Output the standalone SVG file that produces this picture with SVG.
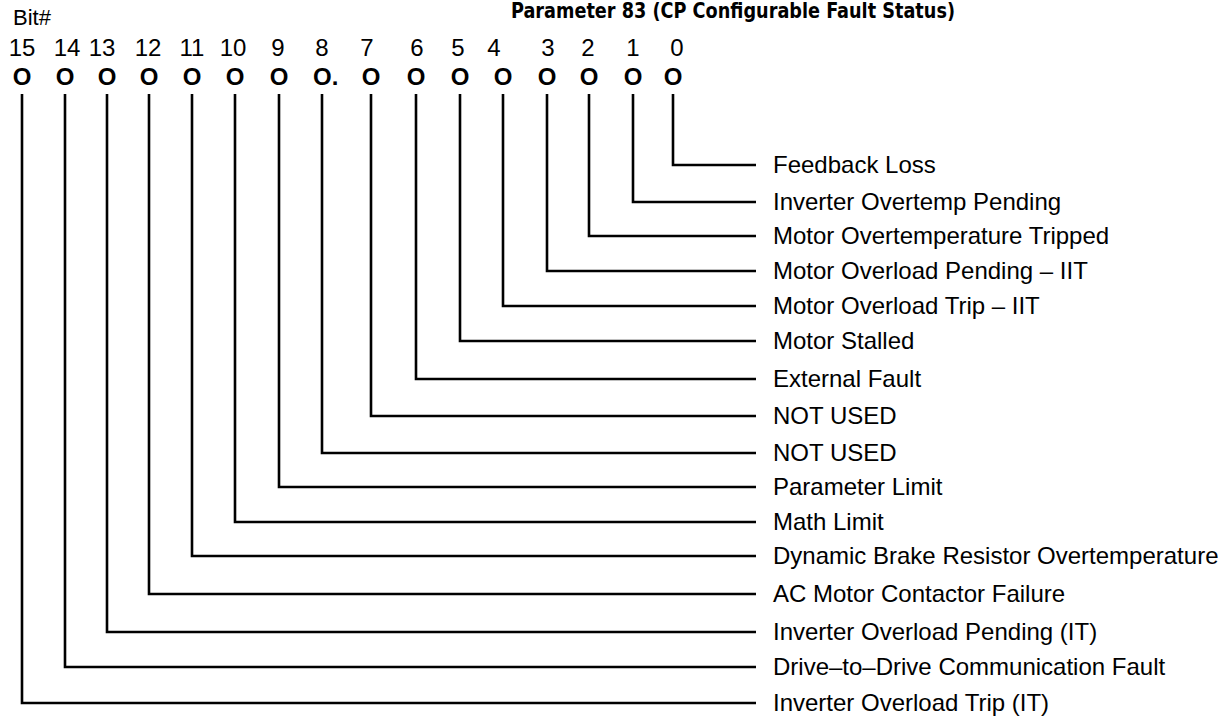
<svg xmlns="http://www.w3.org/2000/svg" width="1224" height="717" viewBox="0 0 1224 717">
<style>
.t{font-family:"Liberation Sans",Arial,sans-serif;font-size:24px;fill:#000}
.n{font-family:"Liberation Sans",Arial,sans-serif;font-size:24px;fill:#000;text-anchor:middle}
.o{font-family:"Liberation Sans",Arial,sans-serif;font-size:24px;font-weight:bold;fill:#000;text-anchor:middle}
.ttl{font-family:"Liberation Sans Narrow","DejaVu Sans Condensed","Liberation Sans",sans-serif;font-size:22px;font-weight:bold;fill:#000}
.c{fill:none;stroke:#000;stroke-width:2.6}
</style>
<rect width="1224" height="717" fill="#fff"/>
<text class="ttl" x="511" y="18" textLength="444" lengthAdjust="spacingAndGlyphs">Parameter 83 (CP Configurable Fault Status)</text>
<text class="t" x="13" y="25" style="font-size:22px">Bit#</text>
<g id="bitnumbers">
<text class="n" x="22" y="56">15</text>
<text class="n" x="67" y="56">14</text>
<text class="n" x="102" y="56">13</text>
<text class="n" x="148" y="56">12</text>
<text class="n" x="192" y="56">11</text>
<text class="n" x="233" y="56">10</text>
<text class="n" x="278" y="56">9</text>
<text class="n" x="322" y="56">8</text>
<text class="n" x="367" y="56">7</text>
<text class="n" x="417" y="56">6</text>
<text class="n" x="458" y="56">5</text>
<text class="n" x="494" y="56">4</text>
<text class="n" x="548" y="56">3</text>
<text class="n" x="588" y="56">2</text>
<text class="n" x="633" y="56">1</text>
<text class="n" x="677" y="56">0</text>
</g>
<g id="bits">
<text class="o" x="22" y="85">O</text>
<text class="o" x="65" y="85">O</text>
<text class="o" x="107" y="85">O</text>
<text class="o" x="149" y="85">O</text>
<text class="o" x="192" y="85">O</text>
<text class="o" x="235" y="85">O</text>
<text class="o" x="279" y="85">O</text>
<text class="o" x="313" y="85" style="text-anchor:start">O.</text>
<text class="o" x="371" y="85">O</text>
<text class="o" x="416" y="85">O</text>
<text class="o" x="460" y="85">O</text>
<text class="o" x="503" y="85">O</text>
<text class="o" x="547" y="85">O</text>
<text class="o" x="589" y="85">O</text>
<text class="o" x="633" y="85">O</text>
<text class="o" x="673" y="85">O</text>
</g>
<g id="connectors">
<path class="c" d="M673 94V165H756"/>
<path class="c" d="M633 94V202H756"/>
<path class="c" d="M589 94V236H756"/>
<path class="c" d="M547 94V271H756"/>
<path class="c" d="M503 94V306H756"/>
<path class="c" d="M460 94V341H756"/>
<path class="c" d="M416 94V379H756"/>
<path class="c" d="M371 94V416H756"/>
<path class="c" d="M322 94V453H756"/>
<path class="c" d="M279 94V487H756"/>
<path class="c" d="M235 94V522H756"/>
<path class="c" d="M192 94V556H756"/>
<path class="c" d="M149 94V594H756"/>
<path class="c" d="M107 94V632H756"/>
<path class="c" d="M65 94V667H756"/>
<path class="c" d="M22 94V703H756"/>
</g>
<g id="label-bit0"><text class="t" x="773" y="173">Feedback Loss</text></g>
<g id="label-bit1"><text class="t" x="773" y="210">Inverter Overtemp Pending</text></g>
<g id="label-bit2"><text class="t" x="773" y="244">Motor Overtemperature Tripped</text></g>
<g id="label-bit3"><text class="t" x="773" y="279">Motor Overload Pending – IIT</text></g>
<g id="label-bit4"><text class="t" x="773" y="314">Motor Overload Trip – IIT</text></g>
<g id="label-bit5"><text class="t" x="773" y="349">Motor Stalled</text></g>
<g id="label-bit6"><text class="t" x="773" y="387">External Fault</text></g>
<g id="label-bit7"><text class="t" x="773" y="424">NOT USED</text></g>
<g id="label-bit8"><text class="t" x="773" y="461">NOT USED</text></g>
<g id="label-bit9"><text class="t" x="773" y="495">Parameter Limit</text></g>
<g id="label-bit10"><text class="t" x="773" y="530">Math Limit</text></g>
<g id="label-bit11"><text class="t" x="773" y="564">Dynamic Brake Resistor Overtemperature</text></g>
<g id="label-bit12"><text class="t" x="773" y="602">AC Motor Contactor Failure</text></g>
<g id="label-bit13"><text class="t" x="773" y="640">Inverter Overload Pending (IT)</text></g>
<g id="label-bit14"><text class="t" x="773" y="675">Drive–to–Drive Communication Fault</text></g>
<g id="label-bit15"><text class="t" x="773" y="711">Inverter Overload Trip (IT)</text></g>
</svg>
